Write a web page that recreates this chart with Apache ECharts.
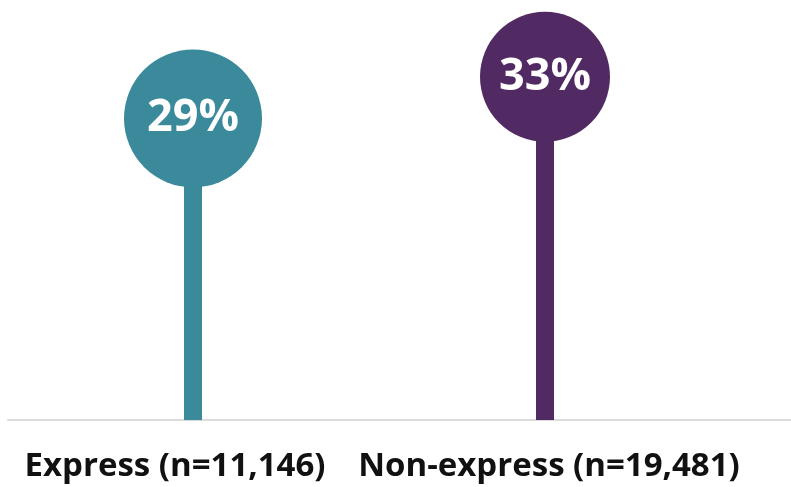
<!DOCTYPE html>
<html>
<head>
<meta charset="utf-8">
<script src="https://cdn.jsdelivr.net/npm/echarts@6/dist/echarts.min.js"></script>
<style>
  html, body { margin: 0; padding: 0; background: #ffffff; }
  #chart { width: 791px; height: 487px; }
</style>
</head>
<body>
<div id="chart"></div>
<script>
// Share of shipments, by service type
const categories = ['Express (n=11,146)', 'Non-express (n=19,481)'];
const shares = [29, 33];

const colors = ['#3b8a9c', '#522a63'];
const bubbleSizes = [138, 130];
// nudge each category label sideways (px): negative = left
const labelShift = [-18, 4];

const chart = echarts.init(document.getElementById('chart'));

chart.setOption({
  animation: false,
  grid: [
    { left: 17, right: 70, top: 4, bottom: 67 },
    { left: 8, right: 0, top: 4, bottom: 67 }
  ],
  xAxis: [
    {
      type: 'category',
      gridIndex: 0,
      data: categories,
      axisLine: { show: false },
      axisTick: { show: false },
      axisLabel: {
        margin: 30,
        formatter: (v, i) => '{' + (i === 0 ? 'a' : 'b') + '|' + v + '}',
        rich: {
          a: {
            fontFamily: 'Liberation Sans Narrow, Open Sans, sans-serif',
            fontWeight: 'bold', fontSize: 33, color: '#111111',
            padding: labelShift[0] < 0 ? [0, -2 * labelShift[0], 0, 0] : [0, 0, 0, 2 * labelShift[0]]
          },
          b: {
            fontFamily: 'Liberation Sans Narrow, Open Sans, sans-serif',
            fontWeight: 'bold', fontSize: 33, color: '#111111',
            padding: labelShift[1] < 0 ? [0, -2 * labelShift[1], 0, 0] : [0, 0, 0, 2 * labelShift[1]]
          }
        }
      }
    },
    {
      type: 'value',
      gridIndex: 1,
      min: 0, max: 1,
      axisLine: { show: true, lineStyle: { color: '#dcdcdc', width: 2 } },
      axisTick: { show: false },
      axisLabel: { show: false },
      splitLine: { show: false }
    }
  ],
  yAxis: [
    { type: 'value', gridIndex: 0, min: 0, max: 40, show: false },
    { type: 'value', gridIndex: 1, min: 0, max: 1, show: false }
  ],
  series: [
    {
      type: 'bar',
      xAxisIndex: 0, yAxisIndex: 0,
      barWidth: 18,
      z: 2,
      data: shares.map((v, i) => ({ value: v, itemStyle: { color: colors[i] } }))
    },
    {
      type: 'scatter',
      xAxisIndex: 0, yAxisIndex: 0,
      z: 3,
      symbol: 'circle',
      data: shares.map((v, i) => ({
        value: v,
        symbolSize: bubbleSizes[i],
        itemStyle: { color: colors[i], opacity: 1 }
      })),
      label: {
        show: true,
        position: 'inside',
        formatter: p => p.value + '%',
        color: '#ffffff',
        fontFamily: 'Open Sans, sans-serif',
        fontWeight: 'bold',
        fontSize: 45
      },
      emphasis: { disabled: true }
    }
  ]
});
</script>
</body>
</html>
